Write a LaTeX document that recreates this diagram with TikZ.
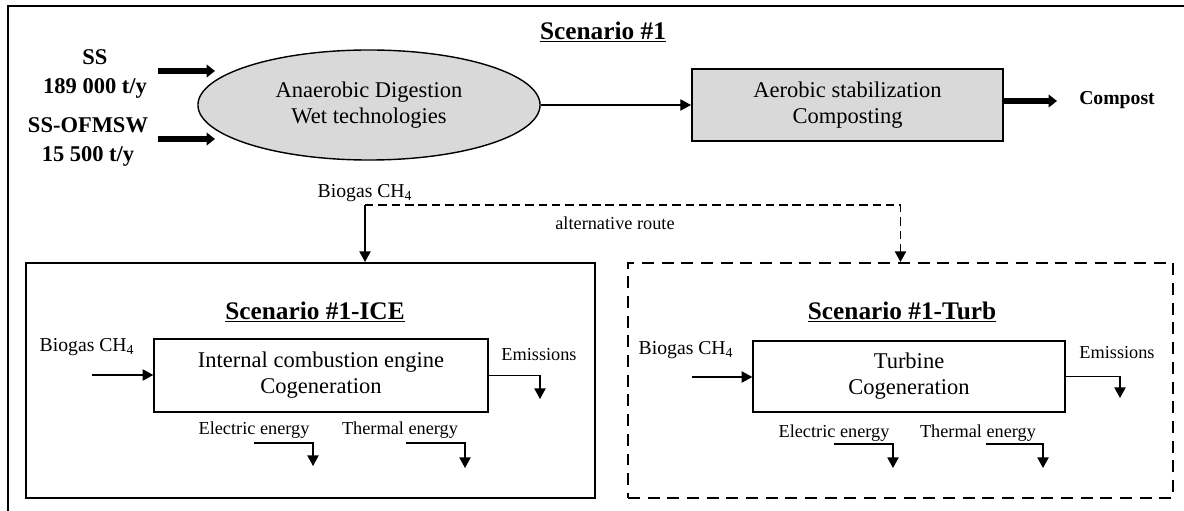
\documentclass[tikz,border=0pt]{standalone}
\usepackage{fontspec}
\setmainfont{Liberation Serif}
\usetikzlibrary{shapes.geometric,arrows.meta}

\begin{document}
\begin{tikzpicture}[x=0.025cm, y=-0.025cm,
    big/.style={font=\fontsize{16}{18.5}\selectfont, align=center},
    small/.style={font=\fontsize{13}{15}\selectfont},
    gas/.style={font=\fontsize{14}{16}\selectfont},
    headline/.style={font=\fontsize{18}{21}\selectfont\bfseries},
    feed/.style={font=\fontsize{16}{20}\selectfont\bfseries, align=center},
    fat/.style={line width=3.8pt, -{Triangle[length=6pt,width=9pt]}},
    thin/.style={line width=0.8pt, -{Triangle[length=7.5pt,width=8pt]}},
    unit/.style={draw, line width=1pt, big, inner sep=0pt}]
    \useasboundingbox (0,0) rectangle (1184,511);

    % frame of the whole figure
    \draw[line width=1.2pt] (1190,6) -- (8,6) -- (8,520);
    \node[headline] (title) at (603,32) {\underline{Scenario \#1}};

    % main line
    \node[feed] (ss) at (95,74) {SS\\189 000 t/y};
    \node[feed] (ofmsw) at (88,142) {SS-OFMSW\\15 500 t/y};
    \node[ellipse, draw, line width=1pt, fill=black!15, big, minimum width=8.55cm, minimum height=2.75cm] (ad) at (369,105) {Anaerobic Digestion\\Wet technologies};
    \node[unit, fill=black!15, line width=1.4pt, minimum width=7.775cm, minimum height=1.8cm] (aerobic) at (847.5,105) {Aerobic stabilization\\Composting};
    \node[font=\fontsize{14}{16}\selectfont\bfseries] (compost) at (1117,100) {Compost};

    \coordinate (ssa) at (158,71);
    \coordinate (ssb) at (215,71);
    \coordinate (ofa) at (158,139);
    \coordinate (ofb) at (215,139);
    \coordinate (compend) at (1057,101);
    \draw[fat] (ssa) -- (ssb);
    \draw[fat] (ofa) -- (ofb);
    \draw[thin] (ad) -- (aerobic);
    \draw[fat] (aerobic.east |- compend) -- (compend);

    % biogas routes
    \node[gas] (biogas) at (365,193) {Biogas CH\textsubscript{4}};
    \node[small] (alt) at (615,223) {alternative route};

    \node[draw, line width=1.4pt, minimum width=14.225cm, minimum height=5.875cm] (iceframe) at (310.5,380.5) {};
    \node[draw, dashed, dash pattern=on 8.5pt off 5.5pt, line width=1.4pt, minimum width=13.625cm, minimum height=5.875cm] (turbframe) at (900.5,380.5) {};

    \coordinate (fork) at (365,205);
    \draw[thin] (fork) -- (fork |- iceframe.north);
    \draw[thin, dashed, dash pattern=on 6pt off 3.5pt] (fork) -| (turbframe.north);

    % scenario ICE
    \node[headline] (icetitle) at (315,312) {\underline{Scenario \#1-ICE}};
    \node[unit, minimum width=8.35cm, minimum height=1.825cm] (iceeng) at (321,375.5) {Internal combustion engine\\Cogeneration};
    \node[gas] (icegas) at (87,347) {Biogas CH\textsubscript{4}};
    \node[small] (iceemi) at (539,355) {Emissions};
    \node[small] (iceel) at (254,430) {Electric energy};
    \node[small] (iceth) at (400,430) {Thermal energy};

    \coordinate (icein) at (92,375);
    \coordinate (iceemiend) at (540,399);
    \coordinate (iceela) at (254,443);
    \coordinate (iceelb) at (313,466);
    \coordinate (iceta) at (406,443);
    \coordinate (icetb) at (465,468);
    \draw[thin] (icein) -- (icein -| iceeng.west);
    \draw[thin] (iceeng.east) -| (iceemiend);
    \draw[thin] (iceela) -| (iceelb);
    \draw[thin] (iceta) -| (icetb);

    % scenario Turb
    \node[headline] (turbtitle) at (902,312) {\underline{Scenario \#1-Turb}};
    \node[unit, minimum width=7.8cm, minimum height=1.775cm] (turbeng) at (909,376.5) {Turbine\\Cogeneration};
    \node[gas] (turbgas) at (686,350) {Biogas CH\textsubscript{4}};
    \node[small] (turbemi) at (1117,353) {Emissions};
    \node[small] (turbel) at (834,433) {Electric energy};
    \node[small] (turbth) at (978,433) {Thermal energy};

    \coordinate (turbin) at (692,377);
    \coordinate (turbemiend) at (1120,398);
    \coordinate (turbela) at (834,444);
    \coordinate (turbelb) at (893,468);
    \coordinate (turbta) at (986,444);
    \coordinate (turbtb) at (1043,468);
    \draw[thin] (turbin) -- (turbin -| turbeng.west);
    \draw[thin] (turbeng.east) -| (turbemiend);
    \draw[thin] (turbela) -| (turbelb);
    \draw[thin] (turbta) -| (turbtb);
\end{tikzpicture}
\end{document}
